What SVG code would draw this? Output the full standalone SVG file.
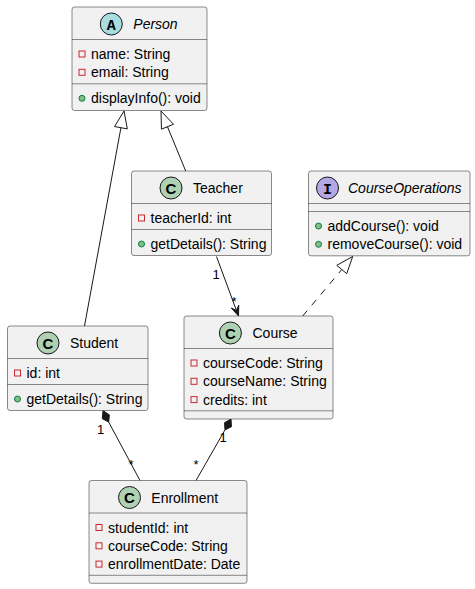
<svg xmlns="http://www.w3.org/2000/svg" width="475" height="589" viewBox="0 0 475 589">
<style>
.box{fill:#F1F1F1;stroke:#181818;stroke-width:0.5}
.sep{stroke:#181818;stroke-width:0.5}
.t{font-family:"Liberation Sans",Arial,sans-serif;font-size:14px;fill:#000}
.it{font-style:italic}
.lbl{font-family:"Liberation Sans",Arial,sans-serif;font-size:13px;fill:#000}
.priv{fill:none;stroke:#C82930;stroke-width:1}
.pub{fill:#84BE84;stroke:#038048;stroke-width:1}
.ic{stroke:#181818;stroke-width:1}
.cl{fill:#ADD1B2}
.ab{fill:#A9DCDF}
.in{fill:#B4A7E5}
.g{font-family:"Liberation Sans",Arial,sans-serif;font-weight:bold;font-size:15px;fill:#000;text-anchor:middle}
.gm{font-family:"Liberation Mono","Courier New",monospace;font-weight:bold;font-size:15px;fill:#000;text-anchor:middle}
.ln{fill:none;stroke:#181818;stroke-width:1}
.hollow{fill:none;stroke:#181818;stroke-width:1}
.solid{fill:#181818;stroke:#181818;stroke-width:1}
</style>
<g id="connectors">
  <line class="ln" x1="84.5" y1="326" x2="120.93" y2="127.72"/>
  <polygon class="hollow" points="124,111 127.32,128.89 114.54,126.55"/>
  <line class="ln" x1="185.7" y1="171" x2="167.47" y2="126.72"/>
  <polygon class="hollow" points="161,111 173.48,124.25 161.46,129.19"/>
  <line class="ln" x1="302.7" y1="316" x2="341.76" y2="269.51" stroke-dasharray="7,7"/>
  <polygon class="hollow" points="352.7,256.5 346.74,273.69 336.78,265.33"/>
  <line class="ln" x1="216.5" y1="256.5" x2="236.4" y2="310.38"/>
  <polygon class="solid" points="238.5,316 238.76,305.23 236.40,310.38 231.26,308.03"/>
  <text class="lbl" x="212.5" y="278.5">1</text>
  <text class="lbl" x="231.5" y="306">*</text>
  <polygon class="solid" points="103,410.5 109.37,414.88 108.70,422.06 102.33,418.68"/>
  <line class="ln" x1="108.7" y1="422.06" x2="140" y2="480.5"/>
  <text class="lbl" x="97" y="434">1</text>
  <text class="lbl" x="128.5" y="469">*</text>
  <polygon class="solid" points="231,419 231.46,426.69 224.99,429.89 224.54,422.69"/>
  <line class="ln" x1="224.99" y1="429.89" x2="196" y2="480.5"/>
  <text class="lbl" x="219.5" y="442">1</text>
  <text class="lbl" x="193.5" y="469">*</text>
</g>
<g id="Person">
  <rect class="box" x="72" y="7" width="135" height="103.5" rx="2.5" ry="2.5"/>
  <circle class="ic ab" cx="111.3" cy="24" r="11"/>
  <text class="gm" x="111.3" y="29.5">A</text>
  <text class="t it" x="133.3" y="29">Person</text>
  <line class="sep" x1="72" y1="39.5" x2="207" y2="39.5"/>
  <rect class="priv" x="79" y="51" width="6" height="6"/>
  <text class="t" x="91" y="59">name: String</text>
  <rect class="priv" x="79" y="69.3" width="6" height="6"/>
  <text class="t" x="91" y="77.3">email: String</text>
  <line class="sep" x1="72" y1="83.8" x2="207" y2="83.8"/>
  <circle class="pub" cx="82" cy="98.3" r="3"/>
  <text class="t" x="91" y="103.3">displayInfo(): void</text>
</g>
<g id="Teacher">
  <rect class="box" x="131.5" y="171" width="140" height="84.5" rx="2.5" ry="2.5"/>
  <circle class="ic cl" cx="171" cy="188" r="11"/>
  <text class="g" x="171" y="193.5">C</text>
  <text class="t" x="193" y="193">Teacher</text>
  <line class="sep" x1="131.5" y1="203.5" x2="271.5" y2="203.5"/>
  <rect class="priv" x="138.5" y="215" width="6" height="6"/>
  <text class="t" x="150.5" y="223">teacherId: int</text>
  <line class="sep" x1="131.5" y1="229.5" x2="271.5" y2="229.5"/>
  <circle class="pub" cx="141.5" cy="244" r="3"/>
  <text class="t" x="150.5" y="249">getDetails(): String</text>
</g>
<g id="CourseOperations">
  <rect class="box" x="308.5" y="171" width="161.5" height="84.8" rx="2.5" ry="2.5"/>
  <circle class="ic in" cx="327.5" cy="188" r="11"/>
  <text class="gm" x="327.5" y="193.5">I</text>
  <text class="t it" x="348" y="193">CourseOperations</text>
  <line class="sep" x1="308.5" y1="203.5" x2="470" y2="203.5"/>
  <line class="sep" x1="308.5" y1="211.5" x2="470" y2="211.5"/>
  <circle class="pub" cx="318.5" cy="226" r="3"/>
  <text class="t" x="327.5" y="231">addCourse(): void</text>
  <circle class="pub" cx="318.5" cy="244.3" r="3"/>
  <text class="t" x="327.5" y="249.3">removeCourse(): void</text>
</g>
<g id="Student">
  <rect class="box" x="7.5" y="326" width="140.5" height="84.5" rx="2.5" ry="2.5"/>
  <circle class="ic cl" cx="48" cy="343" r="11"/>
  <text class="g" x="48" y="348.5">C</text>
  <text class="t" x="70" y="348">Student</text>
  <line class="sep" x1="7.5" y1="358.5" x2="148" y2="358.5"/>
  <rect class="priv" x="14.5" y="370" width="6" height="6"/>
  <text class="t" x="26.5" y="378">id: int</text>
  <line class="sep" x1="7.5" y1="384.5" x2="148" y2="384.5"/>
  <circle class="pub" cx="17.5" cy="399" r="3"/>
  <text class="t" x="26.5" y="404">getDetails(): String</text>
</g>
<g id="Course">
  <rect class="box" x="184" y="316" width="149" height="103" rx="2.5" ry="2.5"/>
  <circle class="ic cl" cx="230.4" cy="333" r="11"/>
  <text class="g" x="230.4" y="338.5">C</text>
  <text class="t" x="252.5" y="338">Course</text>
  <line class="sep" x1="184" y1="348.5" x2="333" y2="348.5"/>
  <rect class="priv" x="191" y="360" width="6" height="6"/>
  <text class="t" x="203" y="368">courseCode: String</text>
  <rect class="priv" x="191" y="378.3" width="6" height="6"/>
  <text class="t" x="203" y="386.3">courseName: String</text>
  <rect class="priv" x="191" y="396.6" width="6" height="6"/>
  <text class="t" x="203" y="404.6">credits: int</text>
  <line class="sep" x1="184" y1="410.8" x2="333" y2="410.8"/>
</g>
<g id="Enrollment">
  <rect class="box" x="89" y="480.5" width="158" height="102.8" rx="2.5" ry="2.5"/>
  <circle class="ic cl" cx="129.5" cy="497.5" r="11"/>
  <text class="g" x="129.5" y="503">C</text>
  <text class="t" x="151.3" y="502.5">Enrollment</text>
  <line class="sep" x1="89" y1="513" x2="247" y2="513"/>
  <rect class="priv" x="96" y="524.5" width="6" height="6"/>
  <text class="t" x="108" y="532.5">studentId: int</text>
  <rect class="priv" x="96" y="542.8" width="6" height="6"/>
  <text class="t" x="108" y="550.8">courseCode: String</text>
  <rect class="priv" x="96" y="561.1" width="6" height="6"/>
  <text class="t" x="108" y="569.1">enrollmentDate: Date</text>
  <line class="sep" x1="89" y1="575.3" x2="247" y2="575.3"/>
</g>
</svg>
